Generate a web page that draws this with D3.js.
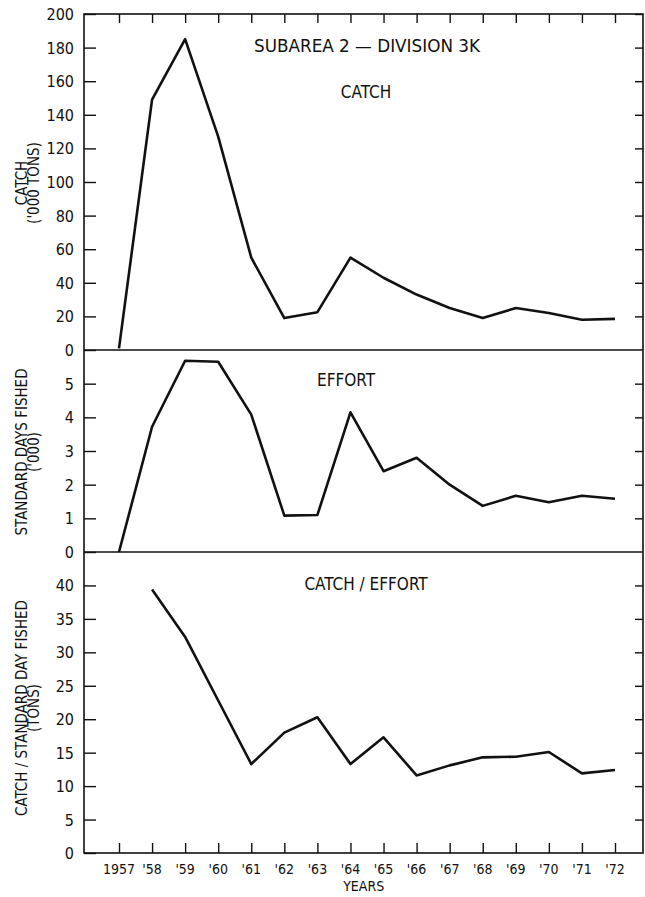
<!DOCTYPE html>
<html>
<head>
<meta charset="utf-8">
<script src="https://cdn.jsdelivr.net/npm/d3@7"></script>
<style>
  body { margin: 0; background: #fff; }
  svg { display: block; }
  text { font-family: "DejaVu Sans Condensed", "Liberation Sans Narrow", "DejaVu Sans", sans-serif; fill: #111; }
</style>
</head>
<body>
<div id="chart"></div>
<script>
// years on the shared x axis
const years = [1957, 1958, 1959, 1960, 1961, 1962, 1963, 1964, 1965, 1966, 1967, 1968, 1969, 1970, 1971, 1972];
const yearLabels = ["1957", "'58", "'59", "'60", "'61", "'62", "'63", "'64", "'65", "'66", "'67", "'68", "'69", "'70", "'71", "'72"];

// catch, '000 tons
const catchValues = [1, 149, 185, 127, 55, 19, 22.5, 55, 43, 33, 25, 19, 25, 22, 18, 18.5];
// effort, standard days fished ('000)
const effortValues = [0, 3.72, 5.68, 5.65, 4.08, 1.08, 1.1, 4.15, 2.4, 2.8, 2.0, 1.37, 1.67, 1.48, 1.67, 1.58];
// catch per standard day fished (tons), starts in 1958
const cpueYears = years.slice(1);
const cpueValues = [39.4, 32.3, 22.8, 13.3, 18.0, 20.3, 13.3, 17.3, 11.6, 13.1, 14.3, 14.4, 15.1, 11.9, 12.4];

const catchTicks = [0, 20, 40, 60, 80, 100, 120, 140, 160, 180, 200];
const effortTicks = [0, 1, 2, 3, 4, 5];
const cpueTicks = [0, 5, 10, 15, 20, 25, 30, 35, 40];

const W = 645, H = 897;
const svg = d3.select("#chart").append("svg")
  .attr("width", W)
  .attr("height", H);

// x scale shared by all three panels
const x = d3.scaleLinear().domain([1957, 1972]).range([119, 615]);
const xLeft = 84, xRight = 643;

// the three panels, stacked
const panels = [
  { y: d3.scaleLinear().domain([0, 200]).range([350, 14]), ticks: catchTicks, xs: years, vals: catchValues },
  { y: d3.scaleLinear().domain([0, 6]).range([552, 350]), ticks: effortTicks, xs: years, vals: effortValues },
  { y: d3.scaleLinear().domain([0, 45]).range([853, 552]), ticks: cpueTicks, xs: cpueYears, vals: cpueValues }
];

const yTop = panels[0].y(200), yBottom = panels[2].y(0);

// outer frame
svg.append("rect")
  .attr("x", xLeft).attr("y", yTop)
  .attr("width", xRight - xLeft).attr("height", yBottom - yTop)
  .attr("fill", "none").attr("stroke", "#111").attr("stroke-width", 1.6);

// panel dividers
[panels[0].y(0), panels[1].y(0)].forEach(yy => {
  svg.append("line")
    .attr("x1", xLeft).attr("x2", xRight).attr("y1", yy).attr("y2", yy)
    .attr("stroke", "#111").attr("stroke-width", 1.6);
});

panels.forEach(p => {
  // left axis, ticks inward
  const la = svg.append("g").attr("transform", `translate(${xLeft},0)`)
    .call(d3.axisRight(p.y).tickValues(p.ticks).tickSize(12).tickFormat(""));
  la.select(".domain").remove();
  la.selectAll("line").attr("stroke", "#111").attr("stroke-width", 1.4);

  svg.append("g").selectAll("text")
    .data(p.ticks).enter().append("text")
    .attr("x", xLeft - 10)
    .attr("y", d => p.y(d) + 6)
    .attr("text-anchor", "end")
    .style("font-size", "16px")
    .text(d => d);

  // right axis, ticks inward
  const ra = svg.append("g").attr("transform", `translate(${xRight},0)`)
    .call(d3.axisLeft(p.y).tickValues(p.ticks.filter(t => t > 0)).tickSize(8).tickFormat(""));
  ra.select(".domain").remove();
  ra.selectAll("line").attr("stroke", "#111").attr("stroke-width", 1.4);

  // data line
  const line = d3.line()
    .x((d, i) => x(p.xs[i]))
    .y(d => p.y(d));
  svg.append("path")
    .datum(p.vals)
    .attr("d", line)
    .attr("fill", "none")
    .attr("stroke", "#111")
    .attr("stroke-width", 2.6)
    .attr("stroke-linejoin", "round");
});

// top ticks (pointing down) and bottom ticks (pointing up)
const ta = svg.append("g").attr("transform", `translate(0,${yTop})`)
  .call(d3.axisBottom(x).tickValues(years).tickSize(9).tickFormat(""));
ta.select(".domain").remove();
ta.selectAll("line").attr("stroke", "#111").attr("stroke-width", 1.4);

const ba = svg.append("g").attr("transform", `translate(0,${yBottom})`)
  .call(d3.axisTop(x).tickValues(years).tickSize(10).tickFormat(""));
ba.select(".domain").remove();
ba.selectAll("line").attr("stroke", "#111").attr("stroke-width", 1.4);

// year labels
svg.append("g").selectAll("text")
  .data(years).enter().append("text")
  .attr("x", d => x(d))
  .attr("y", yBottom + 21)
  .attr("text-anchor", "middle")
  .style("font-size", "14px")
  .text((d, i) => yearLabels[i]);

svg.append("text")
  .attr("x", x(1964.4)).attr("y", 891)
  .attr("text-anchor", "middle")
  .style("font-size", "14px")
  .text("YEARS");

// panel titles
svg.append("text")
  .attr("x", 367).attr("y", 52)
  .attr("text-anchor", "middle")
  .style("font-size", "17px")
  .attr("textLength", 226).attr("lengthAdjust", "spacingAndGlyphs")
  .text("SUBAREA 2 \u2014 DIVISION 3K");

svg.append("text")
  .attr("x", 366).attr("y", 98)
  .attr("text-anchor", "middle")
  .style("font-size", "17px")
  .text("CATCH");

svg.append("text")
  .attr("x", 346).attr("y", 386)
  .attr("text-anchor", "middle")
  .style("font-size", "17px")
  .text("EFFORT");

svg.append("text")
  .attr("x", 366).attr("y", 590)
  .attr("text-anchor", "middle")
  .style("font-size", "17px")
  .text("CATCH / EFFORT");

// y axis titles (rotated)
function yTitle(lines, cy) {
  lines.forEach((t, i) => {
    svg.append("text")
      .attr("transform", `translate(${27 + i * 12},${cy}) rotate(-90)`)
      .attr("text-anchor", "middle")
      .style("font-size", "15px")
      .text(t);
  });
}
yTitle(["CATCH", "('000 TONS)"], 183);
yTitle(["STANDARD DAYS FISHED", "('000)"], 452);
yTitle(["CATCH / STANDARD DAY FISHED", "(TONS)"], 708);
</script>
</body>
</html>
